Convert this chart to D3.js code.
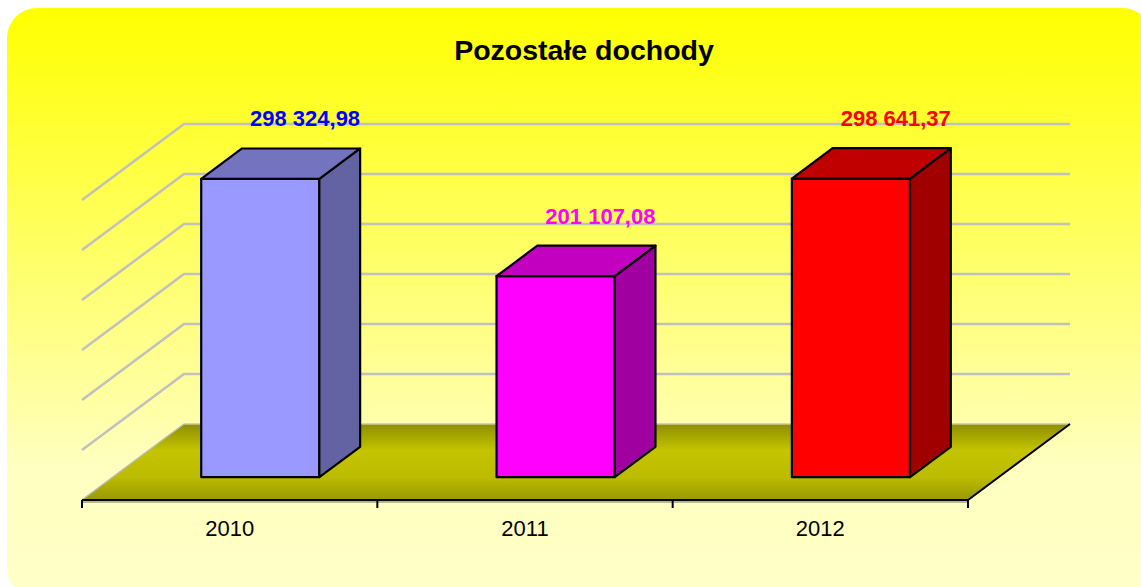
<!DOCTYPE html>
<html>
<head>
<meta charset="utf-8">
<script src="https://cdn.jsdelivr.net/npm/d3@7"></script>
<style>
  body { margin: 0; background: #fff; }
  svg { display: block; }
</style>
</head>
<body>
<svg id="chart"></svg>
<script>
const years = ['2010', '2011', '2012'];
const values = [298324.98, 201107.08, 298641.37];
const labels = ['298 324,98', '201 107,08', '298 641,37'];
const frontColors = ['#9999FF', '#FF00FF', '#FF0000'];
const topColors = ['#7373C0', '#C400C0', '#C00000'];
const sideColors = ['#6363A3', '#A000A0', '#A00000'];
const labelColors = ['#0000FF', '#FF00FF', '#FF0000'];
const gridTicks = [50000, 100000, 150000, 200000, 250000, 300000];

const width = 1141, height = 587;
const baseY = 500;          // front edge of the floor
const left = 82, right = 968;
const DX = 102, DY = -76;   // full depth offset
const dFront = 0.3, dBack = 0.7;

const svg = d3.select('#chart')
  .attr('width', width)
  .attr('height', height);

const defs = svg.append('defs');
const bg = defs.append('linearGradient')
  .attr('id', 'bg').attr('x1', 0).attr('y1', 0).attr('x2', 0).attr('y2', 1);
bg.append('stop').attr('offset', '0%').attr('stop-color', '#FFFF00');
bg.append('stop').attr('offset', '78%').attr('stop-color', '#FFFFC0');
bg.append('stop').attr('offset', '100%').attr('stop-color', '#FFFFC8');

const floorGrad = defs.append('linearGradient')
  .attr('id', 'floor').attr('x1', 0).attr('y1', 0).attr('x2', 0).attr('y2', 1);
floorGrad.append('stop').attr('offset', '0%').attr('stop-color', '#8E8E00');
floorGrad.append('stop').attr('offset', '35%').attr('stop-color', '#C4C400');
floorGrad.append('stop').attr('offset', '70%').attr('stop-color', '#BCBC00');
floorGrad.append('stop').attr('offset', '100%').attr('stop-color', '#999900');

svg.append('rect')
  .attr('x', 7).attr('y', 8)
  .attr('width', 1145).attr('height', 590)
  .attr('rx', 30).attr('ry', 30)
  .attr('fill', 'url(#bg)');

svg.append('text')
  .attr('x', 584).attr('y', 60)
  .attr('text-anchor', 'middle')
  .attr('font-family', 'Arial, "Liberation Sans", sans-serif')
  .attr('font-weight', 'bold')
  .attr('font-size', 28.5)
  .attr('fill', '#000')
  .text('Pozostałe dochody');

const x = d3.scaleBand()
  .domain(years)
  .range([left, right])
  .paddingInner(0.6)
  .paddingOuter(0.3);

const y = d3.scaleLinear()
  .domain([0, 300000])
  .range([0, 300]);

// project (front x, value, depth fraction) to screen
const P = (px, v, d) => [px + d * DX, baseY - y(v) + d * DY];

// gridlines on back wall and side wall
const grid = svg.append('g')
  .attr('stroke', '#C0C0C0')
  .attr('stroke-width', 2.5)
  .attr('fill', 'none');

grid.selectAll('path')
  .data(gridTicks)
  .enter()
  .append('path')
  .attr('d', v => {
    const a = P(left, v, 0), b = P(left, v, 1), c = P(right, v, 1);
    return `M${a}L${b}L${c}`;
  });

// floor
const f0 = P(left, 0, 0), f1 = P(right, 0, 0), f2 = P(right, 0, 1), f3 = P(left, 0, 1);
svg.append('path')
  .attr('d', `M${f0}L${f1}L${f2}L${f3}Z`)
  .attr('fill', 'url(#floor)');
svg.append('path')
  .attr('d', `M${f3}L${f2}`)
  .attr('stroke', '#C8C8A0').attr('stroke-width', 1.5).attr('fill', 'none');
svg.append('path')
  .attr('d', `M${f3}L${f0}`)
  .attr('stroke', '#B8B8B8').attr('stroke-width', 1.5).attr('fill', 'none');
svg.append('path')
  .attr('d', `M${f0[0]},${f0[1] + 2}L${f1[0]},${f1[1] + 2}`)
  .attr('stroke', '#B8B890').attr('stroke-width', 2).attr('fill', 'none');
svg.append('path')
  .attr('d', `M${f0}L${f1}L${f2}`)
  .attr('stroke', '#000').attr('stroke-width', 2).attr('fill', 'none');

// ticks at category boundaries
const bounds = d3.range(years.length + 1).map(i => left + i * x.step());
svg.append('g')
  .selectAll('line')
  .data(bounds)
  .enter()
  .append('line')
  .attr('x1', d => d).attr('x2', d => d)
  .attr('y1', baseY).attr('y2', baseY + 8)
  .attr('stroke', '#000').attr('stroke-width', 2);

svg.append('g')
  .selectAll('text')
  .data(years)
  .enter()
  .append('text')
  .attr('x', d => x(d) + x.bandwidth() / 2)
  .attr('y', 536)
  .attr('text-anchor', 'middle')
  .attr('font-family', 'Arial, "Liberation Sans", sans-serif')
  .attr('font-size', 22)
  .attr('fill', '#000')
  .text(d => d);

// bars
const bars = svg.append('g')
  .selectAll('g')
  .data(years.map((yr, i) => ({ yr, v: values[i], i })))
  .enter()
  .append('g')
  .attr('stroke', '#000')
  .attr('stroke-width', 2.2)
  .attr('stroke-linejoin', 'round');

bars.append('path')
  .attr('fill', d => frontColors[d.i])
  .attr('d', d => {
    const x0 = x(d.yr), x1 = x0 + x.bandwidth();
    return `M${P(x0, 0, dFront)}L${P(x1, 0, dFront)}L${P(x1, d.v, dFront)}L${P(x0, d.v, dFront)}Z`;
  });

bars.append('path')
  .attr('fill', d => sideColors[d.i])
  .attr('d', d => {
    const x1 = x(d.yr) + x.bandwidth();
    return `M${P(x1, 0, dFront)}L${P(x1, 0, dBack)}L${P(x1, d.v, dBack)}L${P(x1, d.v, dFront)}Z`;
  });

bars.append('path')
  .attr('fill', d => topColors[d.i])
  .attr('d', d => {
    const x0 = x(d.yr), x1 = x0 + x.bandwidth();
    return `M${P(x0, d.v, dFront)}L${P(x1, d.v, dFront)}L${P(x1, d.v, dBack)}L${P(x0, d.v, dBack)}Z`;
  });

// value labels
svg.append('g')
  .selectAll('text')
  .data(years.map((yr, i) => ({ yr, v: values[i], i })))
  .enter()
  .append('text')
  .attr('x', d => P(x(d.yr) + x.bandwidth() / 2, d.v, dBack)[0] + 4)
  .attr('y', d => P(0, d.v, dBack)[1] - 22)
  .attr('text-anchor', 'middle')
  .attr('font-family', 'Arial, "Liberation Sans", sans-serif')
  .attr('font-weight', 'bold')
  .attr('font-size', 22)
  .attr('fill', d => labelColors[d.i])
  .text(d => labels[d.i]);
</script>
</body>
</html>
